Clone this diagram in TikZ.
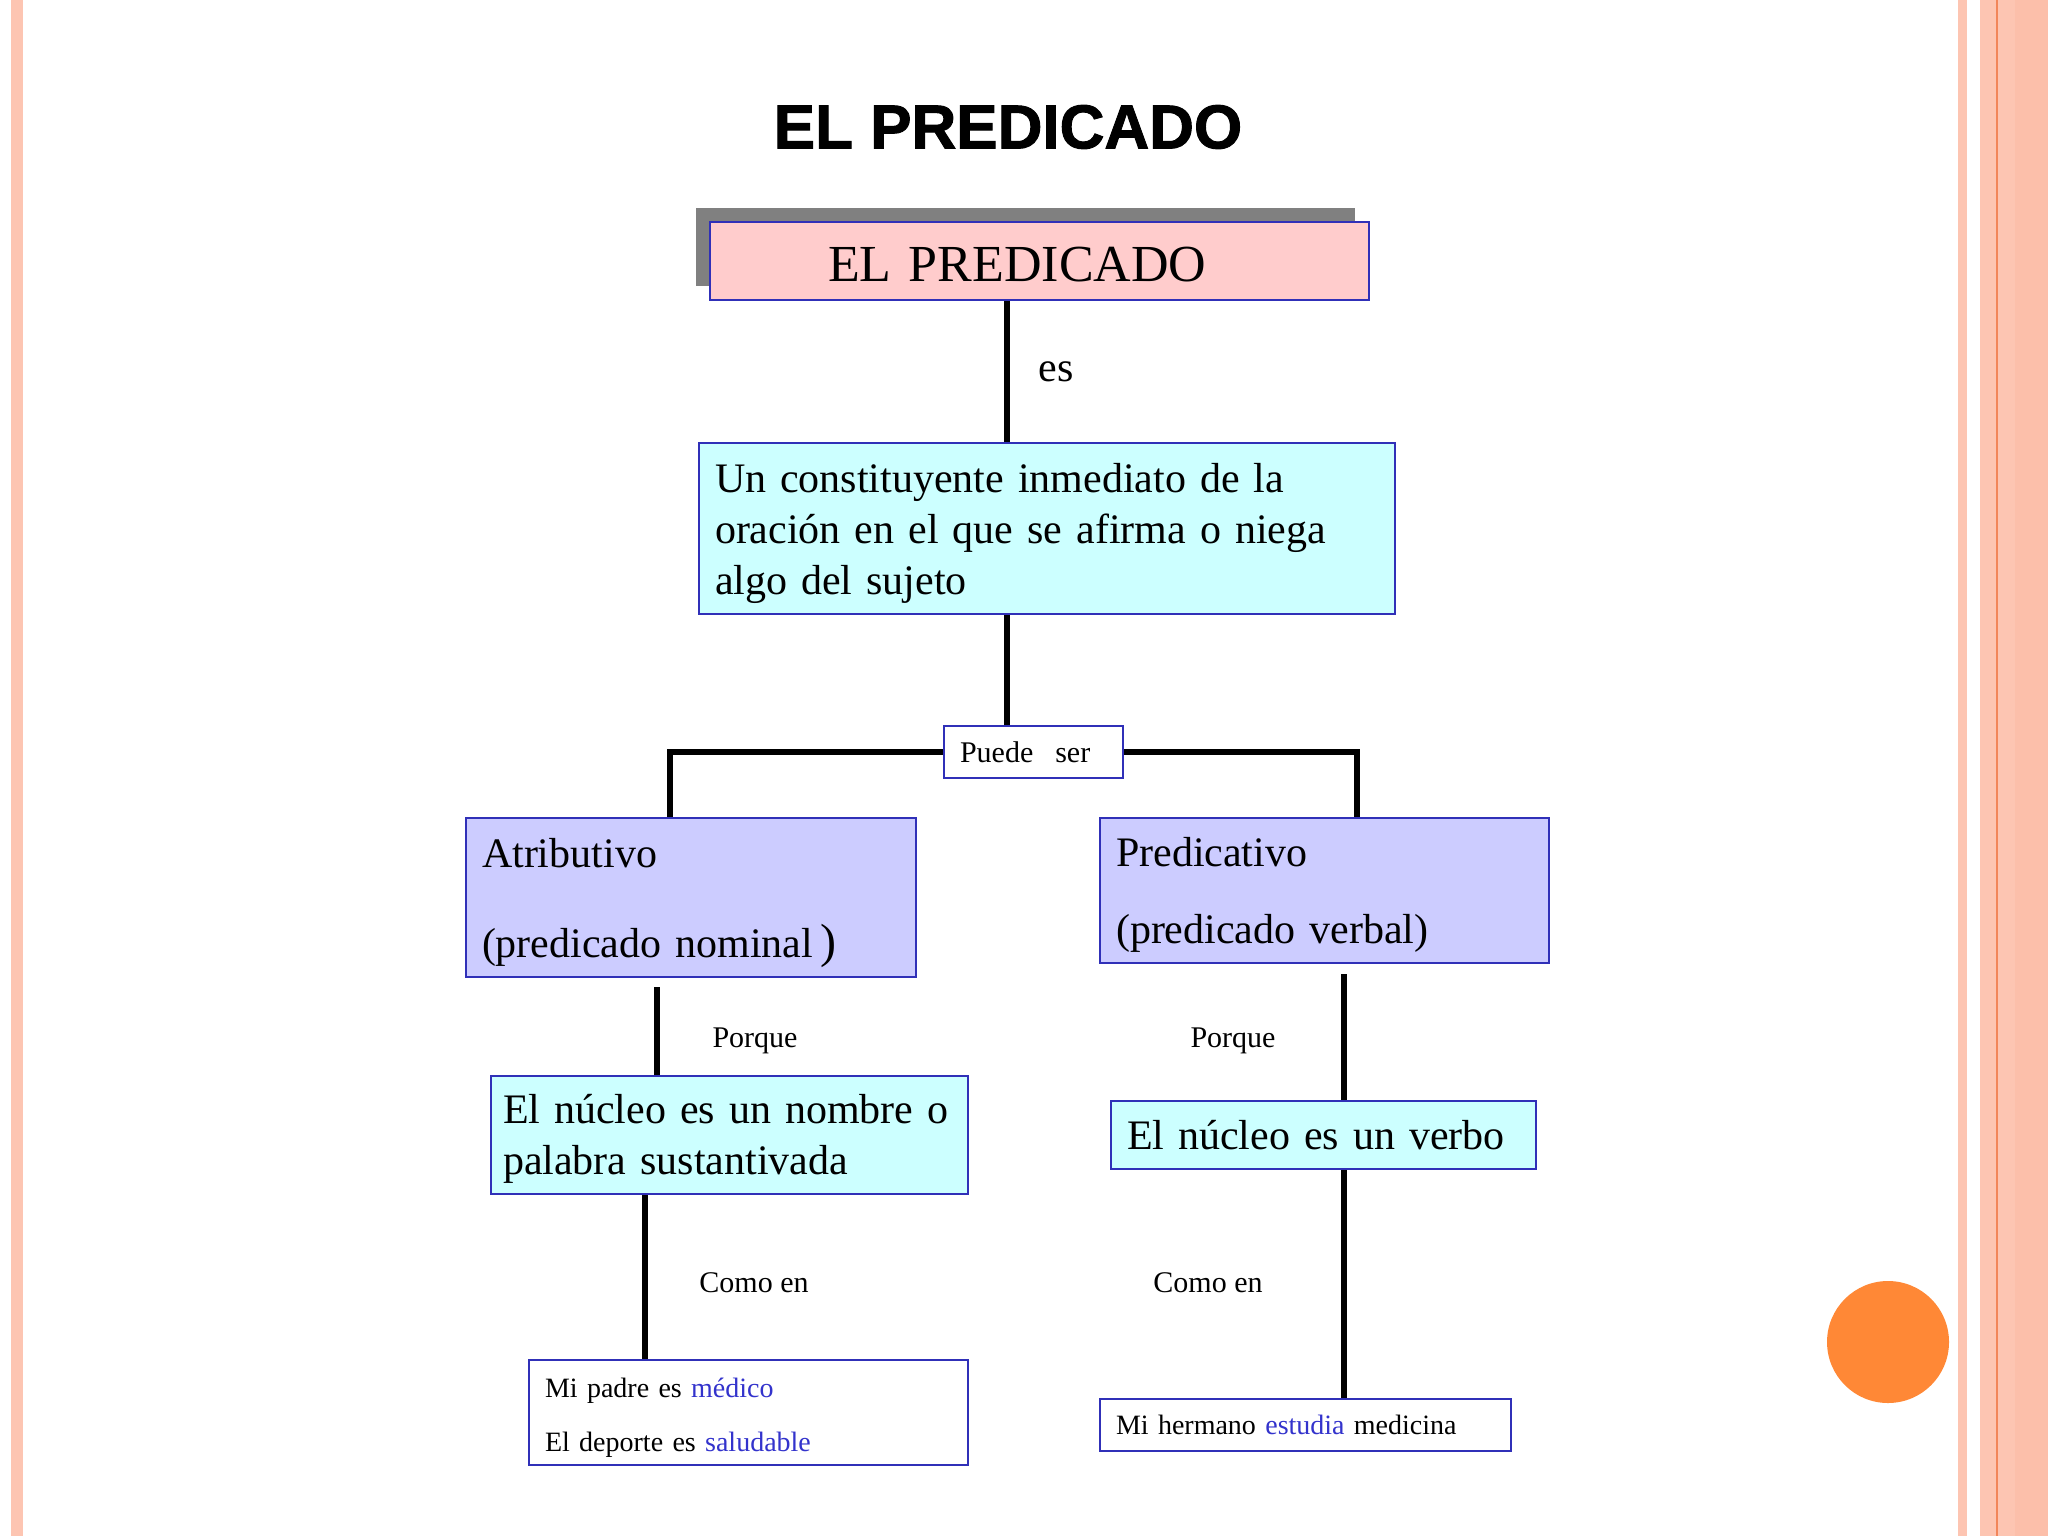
\documentclass[tikz,border=0pt]{standalone}
\usepackage{fontspec}
\usepackage{xcolor}
\usetikzlibrary{shadows}
\setmainfont{Liberation Serif}
\newfontfamily\titlefont[BoldFeatures={FakeBold=1.6}]{Liberation Sans}

\definecolor{pinkfill}{HTML}{FFCCCC}
\definecolor{cyanfill}{HTML}{CCFFFF}
\definecolor{lilafill}{HTML}{CCCCFF}
\definecolor{boxblue}{HTML}{3030B8}
\definecolor{textblue}{HTML}{3333CC}
\definecolor{shadowgray}{HTML}{808080}
\definecolor{stripe}{HTML}{FDC5B2}
\definecolor{stripedark}{HTML}{FCBFAA}
\definecolor{stripeline}{HTML}{F2865A}
\definecolor{bullet}{HTML}{FF8836}

\newcommand\boxfont{\fontsize{21}{25.5}\selectfont}
\newcommand\tagfont{\fontsize{15}{18}\selectfont}
\newcommand\examplefont{\fontsize{14}{17}\selectfont}

\tikzset{
  box/.style={draw=boxblue, line width=1pt, inner xsep=8pt, inner ysep=0pt,
    align=left, font=\boxfont},
  pinkbox/.style={box, fill=pinkfill},
  cyanbox/.style={box, fill=cyanfill},
  lilabox/.style={box, fill=lilafill},
  whitebox/.style={box, fill=white},
  sink/.style={execute at begin node={\rule{0pt}{#1}}},
  link/.style={line width=3pt},
  tag/.style={font=\tagfont, inner sep=0pt}
}

\begin{document}
\begin{tikzpicture}[x=0.5pt, y=-0.5pt]
    \useasboundingbox (0,0) rectangle (2048,1536);
    \fill[white] (0,0) rectangle (2048,1536);

    % side stripes of the slide
    \fill[stripe] (11,0) rectangle (23,1536);
    \fill[stripe] (1958,0) rectangle (1967,1536);
    \fill[stripe] (1980,0) rectangle (2048,1536);
    \fill[stripedark] (2015,0) rectangle (2048,1536);
    \fill[stripeline] (1996,0) rectangle (1998,1536);

    % orange dot
    \fill[bullet] (1888,1342) circle (61);

    % Title
    \node (titulo) at (1008,127) {\titlefont\fontsize{31}{36}\selectfont\bfseries EL PREDICADO};

    % Boxes
    \node[pinkbox, inner xsep=59pt, text width=211.5pt, minimum height=39pt,
      font=\fontsize{26}{30}\selectfont, sink=21pt,
      drop shadow={shadow xshift=-7pt, shadow yshift=7pt, fill=shadowgray, opacity=1}]
      (pred) at (1039.5,261) {EL PREDICADO};
    \node[cyanbox, text width=332pt, minimum height=85.5pt, sink=19.3pt] (def) at (1047,528.5)
      {Un constituyente inmediato de la\\oración en el que se afirma o niega\\algo del sujeto};
    \node[whitebox, text width=73.5pt, minimum height=26pt, font=\tagfont] (puede) at (1033.5,752)
      {Puede\hspace{11pt}ser};
    \node[lilabox, text width=209pt, minimum height=79.5pt, sink=19.8pt] (atrib) at (691,897.5)
      {Atributivo\\[19.5pt](predicado nominal\,{\fontsize{24}{25}\selectfont)}};
    \node[lilabox, text width=208.5pt, minimum height=72.5pt, sink=18.8pt] (predv) at (1324.5,890.5)
      {Predicativo\\[13pt](predicado verbal)};
    \node[cyanbox, inner xsep=6pt, text width=226.5pt, minimum height=59pt, sink=18.3pt] (nucl1) at (729.5,1135)
      {El núcleo es un nombre o\\palabra sustantivada};
    \node[cyanbox, text width=196.5pt, minimum height=34pt] (nucl2) at (1323.5,1135)
      {El núcleo es un verbo};
    \node[whitebox, text width=203.5pt, minimum height=52.5pt, font=\examplefont, sink=14.6pt] (ej1) at (748.5,1412.5)
      {Mi padre es \textcolor{textblue}{médico}\\[10pt]El deporte es \textcolor{textblue}{saludable}};
    \node[whitebox, text width=189.5pt, minimum height=26pt, font=\examplefont] (ej2) at (1305.5,1425)
      {Mi hermano \textcolor{textblue}{estudia} medicina};

    % Labels on the links
    \node[font=\boxfont, inner sep=0pt] (es) at (1056,372) {es};
    \node[tag] (porque1) at (755,1041) {Porque};
    \node[tag] (porque2) at (1233,1041) {Porque};
    \node[tag] (como1) at (754,1283) {Como en};
    \node[tag] (como2) at (1208,1283) {Como en};

    % Links
    \coordinate (stem) at (1007,0);
    \coordinate (bl) at (670,0);
    \coordinate (br) at (1357,0);
    \coordinate (cl) at (657,0);
    \coordinate (dl) at (645,0);
    \coordinate (cr) at (1344,0);
    \draw[link] (stem |- pred.south) -- (stem |- def.north);
    \draw[link] (stem |- def.south) -- (stem |- puede.north);
    \draw[link] (puede.west) -| (bl |- atrib.north);
    \draw[link] (puede.east) -| (br |- predv.north);
    \draw[link, shorten <=4.5pt] (cl |- atrib.south) -- (cl |- nucl1.north);
    \draw[link, shorten <=5pt] (cr |- predv.south) -- (cr |- nucl2.north);
    \draw[link] (dl |- nucl1.south) -- (dl |- ej1.north);
    \draw[link] (cr |- nucl2.south) -- (cr |- ej2.north);
\end{tikzpicture}
\end{document}
